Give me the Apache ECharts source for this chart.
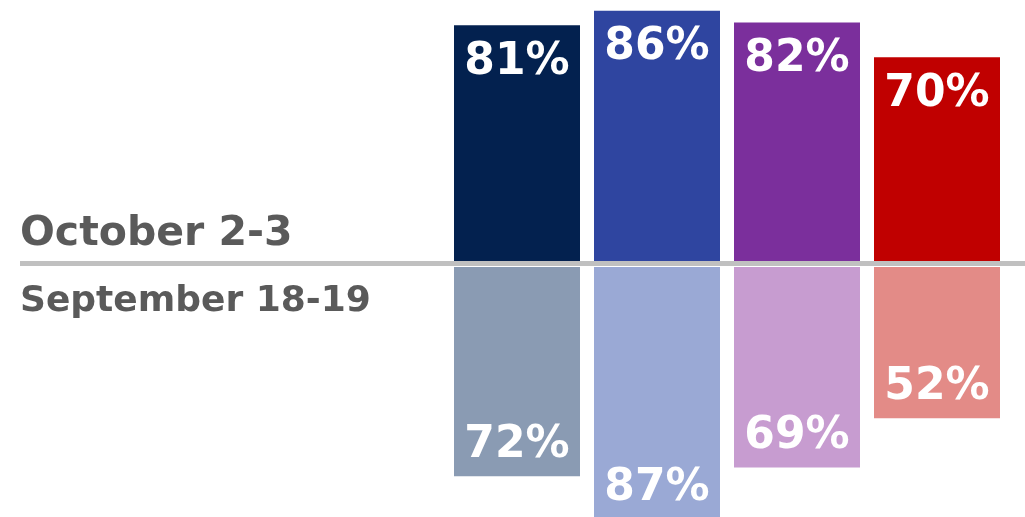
<!DOCTYPE html>
<html>
<head>
<meta charset="utf-8">
<script src="https://cdn.jsdelivr.net/npm/echarts@6/dist/echarts.min.js"></script>
<style>
html,body{margin:0;padding:0;background:#fff;}
#chart{width:1025px;height:517px;}
</style>
</head>
<body>
<div id="chart"></div>
<script>
const categories = ['A', 'B', 'C', 'D'];
const octoberValues = [81, 86, 82, 70];
const septemberValues = [72, 87, 69, 52];
const octoberColors = ['#03214f', '#2f45a0', '#7b2f9c', '#c00000'];
const septemberColors = ['#8a9bb3', '#9aa9d5', '#c79cd0', '#e38b87'];
const rowLabels = ['October 2-3', 'September 18-19'];

const chart = echarts.init(document.getElementById('chart'));
const labelFont = { color: '#ffffff', fontFamily: 'DejaVu Sans', fontWeight: 'bold', fontSize: 44 };

chart.setOption({
  animation: false,
  backgroundColor: '#ffffff',
  grid: [
    { left: 447, width: 560, top: 0, height: 261 },
    { left: 447, width: 560, top: 267, height: 250 }
  ],
  xAxis: [
    { type: 'category', data: categories, gridIndex: 0, show: false },
    { type: 'category', data: categories, gridIndex: 1, show: false }
  ],
  yAxis: [
    { type: 'value', gridIndex: 0, min: 0, max: 89.7, show: false },
    { type: 'value', gridIndex: 1, min: 0, max: 86, inverse: true, show: false }
  ],
  series: [
    {
      type: 'bar', xAxisIndex: 0, yAxisIndex: 0, barWidth: 126,
      data: octoberValues.map((v, i) => ({ value: v, itemStyle: { color: octoberColors[i] } })),
      label: Object.assign({ show: true, position: 'insideTop', distance: 15, formatter: '{c}%' }, labelFont)
    },
    {
      type: 'bar', xAxisIndex: 1, yAxisIndex: 1, barWidth: 126, clip: false,
      data: septemberValues.map((v, i) => ({ value: v, itemStyle: { color: septemberColors[i] } })),
      label: Object.assign({ show: true, position: 'insideBottom', distance: 9, formatter: '{c}%' }, labelFont)
    }
  ],
  graphic: [
    { type: 'line', shape: { x1: 20, y1: 263.5, x2: 1025, y2: 263.5 }, style: { stroke: '#c0c0c0', lineWidth: 5 }, z: 10 },
    { type: 'text', x: 20, y: 234, style: { text: rowLabels[0], font: 'bold 41px "DejaVu Sans"', fill: '#5a5a5a', verticalAlign: 'middle', align: 'left' } },
    { type: 'text', x: 20, y: 302, style: { text: rowLabels[1], font: 'bold 36px "DejaVu Sans"', fill: '#5a5a5a', verticalAlign: 'middle', align: 'left' } }
  ]
});
</script>
</body>
</html>
